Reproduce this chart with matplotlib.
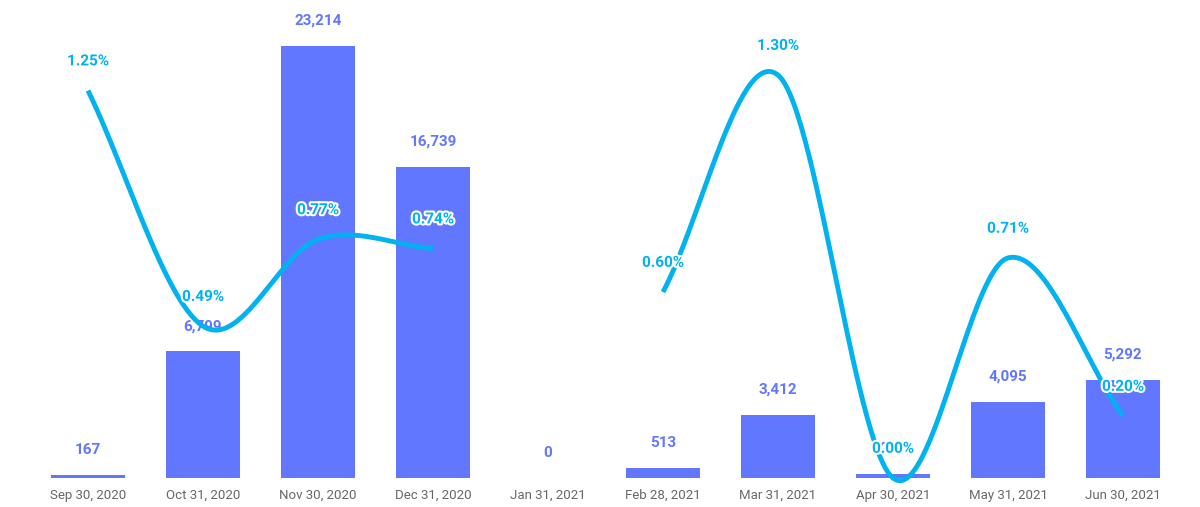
import numpy as np
import matplotlib
matplotlib.use("Agg")
import matplotlib.pyplot as plt
import matplotlib.patheffects as pe

categories = ["Sep 30, 2020", "Oct 31, 2020", "Nov 30, 2020", "Dec 31, 2020", "Jan 31, 2021",
              "Feb 28, 2021", "Mar 31, 2021", "Apr 30, 2021", "May 31, 2021", "Jun 30, 2021"]
bar_values = [167, 6799, 23214, 16739, 0, 513, 3412, 237, 4095, 5292]
rate_values = [1.25, 0.49, 0.77, 0.74, None, 0.60, 1.30, 0.00, 0.71, 0.20]

BAR_C = "#6277ff"
LINE_C = "#00b2f0"

fig = plt.figure(figsize=(12, 5.07), dpi=100)
ax = fig.add_axes([30.5/1200, 29/507, 1150/1200, 468/507])
ax2 = ax.twinx()
x = np.arange(len(categories))
ax.bar(x, bar_values, width=0.65, color=BAR_C, zorder=2)
ax.set_xlim(-0.5, 9.5)
ax.set_ylim(0, 25149)
ax2.set_ylim(0, 1.51)
for xi, v in zip(x, bar_values):
    ax.annotate(f"{v:,}", (xi, v), xytext=(0, 13), textcoords="offset points",
                ha="center", va="bottom", color=BAR_C, fontsize=11, fontweight="bold",
                fontfamily="Roboto")

def catmull(xs, ys, n=60):
    xs = np.asarray(xs, float); ys = np.asarray(ys, float)
    m = len(xs)
    t = np.zeros(m)
    for i in range(m):
        if i == 0:
            t[i] = (ys[1]-ys[0])/(xs[1]-xs[0])
        elif i == m-1:
            t[i] = (ys[-1]-ys[-2])/(xs[-1]-xs[-2])
        else:
            t[i] = (ys[i+1]-ys[i-1])/(xs[i+1]-xs[i-1])
    X, Y = [], []
    for i in range(m-1):
        s = np.linspace(0, 1, n)
        h = xs[i+1]-xs[i]
        h00 = 2*s**3-3*s**2+1; h10 = s**3-2*s**2+s
        h01 = -2*s**3+3*s**2; h11 = s**3-s**2
        X.extend(xs[i]+s*h)
        Y.extend(h00*ys[i]+h10*h*t[i]+h01*ys[i+1]+h11*h*t[i+1])
    return X, Y

segs, cur = [], []
for xi, r in zip(x, rate_values):
    if r is None:
        if cur: segs.append(cur); cur = []
    else:
        cur.append((xi, r))
if cur: segs.append(cur)
for sg in segs:
    xs, ys = zip(*sg)
    X, Y = catmull(xs, ys)
    ax2.plot(X, Y, color=LINE_C, lw=3.5, solid_capstyle="butt", zorder=3, clip_on=False)
for xi, r in zip(x, rate_values):
    if r is None: continue
    ax2.annotate(f"{r:.2f}%", (xi, r), xytext=(0, 16), textcoords="offset points",
                 ha="center", va="bottom", color=LINE_C, fontsize=11, fontweight="bold",
                 fontfamily="Roboto",
                 path_effects=[pe.withStroke(linewidth=3, foreground="white")])

ax.set_xticks(x)
ax.set_xticklabels(categories, color="#666666", fontsize=9.5, fontfamily="Roboto")
ax.tick_params(axis="x", length=0, pad=8)
ax.set_yticks([]); ax2.set_yticks([])
for a in (ax, ax2):
    for s in a.spines.values():
        s.set_visible(False)
fig.savefig("out.png", dpi=100)
